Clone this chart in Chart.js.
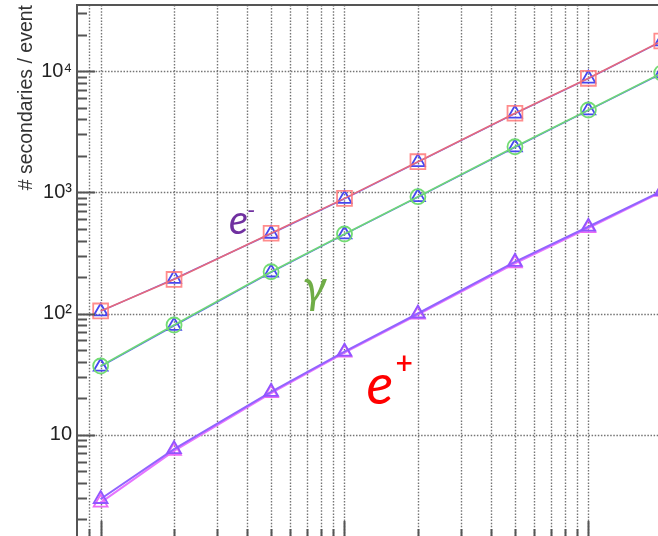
<!DOCTYPE html>
<html><head><meta charset="utf-8">
<script src="https://cdn.jsdelivr.net/npm/chart.js@4.4.1/dist/chart.umd.min.js"></script>
<style>html,body{margin:0;padding:0;background:#fff;overflow:hidden}#wrap{width:658px;height:536px;position:relative}</style>
</head><body><div id="wrap"><canvas id="c"></canvas></div>
<script>
// ---- data ----
const energies   = [1, 2, 5, 10, 20, 50, 100, 200];
const electronA  = [105, 191, 459, 891, 1789, 4490, 8720, 17700];
const electronB  = [104, 193, 455, 884, 1775, 4460, 8680, 17600];
const gammaA     = [36.9, 80.4, 221, 453, 920, 2376, 4775, 9640];
const gammaB     = [36.4, 79.2, 218, 449, 912, 2350, 4740, 9560];
const positronA  = [2.95, 7.6, 22.6, 48.4, 100, 267, 520, 1025];
const positronB  = [2.75, 7.35, 22.0, 47.6, 98, 259, 507, 1008];

const yMajorTicks = [10, 100, 1000, 10000];
const yTickLabels = ['10', '10²', '10³', '10⁴'];
const yMinorTicks = [2,3,4,5,6,7,8,9, 20,30,40,50,60,70,80,90, 200,300,400,500,600,700,800,900,
                     2000,3000,4000,5000,6000,7000,8000,9000, 20000,30000];
const xMajorTicks = [1, 10, 100];
const xMinorTicks = [0.9, 2,3,4,5,6,7,8,9, 20,30,40,50,60,70,80,90];
const xRange = [0.8, 193];
const yRange = [1.46, 35100];
const yTitle = '# secondaries / event';

const annotations = [
  {text: 'e', x: 3.36, y: 453,  font: 'italic 40px Lato, "Noto Sans", sans-serif', color: '#7030a0'},
  {text: '-', x: 3.98, y: 610,  font: 'italic 24px Lato, "Noto Sans", sans-serif', color: '#7030a0'},
  {text: 'γ', x: 6.75, y: 122,  font: 'italic 47px Lato, "Noto Sans", sans-serif', color: '#70ad47'},
  {text: 'e', x: 12.3, y: 17.9, font: 'italic 56px Lato, "Noto Sans", sans-serif', color: '#ff0000'},
  {text: '+', x: 16.2, y: 31.5, font: '600 30px Lato, "Noto Sans", sans-serif', color: '#ff0000'}
];

function pts(ys){ return energies.map((e,i)=>({x:e, y:ys[i]})); }

const axisColor = '#555';
const framePlugin = {
  id: 'frame',
  beforeDatasetsDraw(chart){
    const {ctx, chartArea:a, scales:{x, y}} = chart;
    ctx.save();
    ctx.strokeStyle = '#747474';
    ctx.lineWidth = 1.4;
    ctx.setLineDash([1.5, 1.6]);
    xMajorTicks.concat(xMinorTicks).forEach(v=>{
      const px = Math.round(x.getPixelForValue(v)) + 0.5;
      ctx.beginPath(); ctx.moveTo(px, a.top); ctx.lineTo(px, a.bottom); ctx.stroke();
    });
    yMajorTicks.forEach(v=>{
      const py = Math.round(y.getPixelForValue(v)) + 0.5;
      ctx.beginPath(); ctx.moveTo(a.left, py); ctx.lineTo(a.right, py); ctx.stroke();
    });
    ctx.restore();
  },
  afterDatasetsDraw(chart){
    const {ctx, chartArea:a, scales:{x, y}} = chart;
    ctx.save();
    ctx.setLineDash([]);
    ctx.strokeStyle = axisColor;
    ctx.lineWidth = 2;
    ctx.beginPath();
    ctx.moveTo(a.left, a.bottom); ctx.lineTo(a.left, a.top); ctx.lineTo(a.right, a.top);
    ctx.stroke();
    const yt = (v, len)=>{ const py = Math.round(y.getPixelForValue(v)) + 0.5;
      ctx.beginPath(); ctx.moveTo(a.left, py); ctx.lineTo(a.left + len, py); ctx.stroke(); };
    yMajorTicks.forEach(v=>yt(v, 18));
    yMinorTicks.forEach(v=>yt(v, 10));
    const xt = (v, len)=>{ const px = Math.round(x.getPixelForValue(v)) + 0.5;
      ctx.beginPath(); ctx.moveTo(px, a.bottom); ctx.lineTo(px, a.bottom - len); ctx.stroke(); };
    xMajorTicks.forEach(v=>xt(v, 15));
    xMinorTicks.forEach(v=>xt(v, 7));
    ctx.textAlign = 'left'; ctx.textBaseline = 'alphabetic';
    annotations.forEach(t=>{
      ctx.font = t.font; ctx.fillStyle = t.color;
      ctx.fillText(t.text, x.getPixelForValue(t.x), y.getPixelForValue(t.y));
    });
    ctx.restore();
  }
};

function ds(label, data, color, lineColor, style, radius, width, order){
  return {label, data: pts(data), borderColor: lineColor, borderWidth: width,
    pointStyle: style, pointRadius: radius, pointHoverRadius: radius,
    pointBorderColor: color, pointBackgroundColor: 'rgba(0,0,0,0)', pointBorderWidth: 1.8,
    tension: 0, fill: false, clip: false, order};
}

new Chart(document.getElementById('c'), {
  type: 'line',
  data: {
    datasets: [
      ds('e- A', electronA, 'rgba(255,120,120,0.85)', 'rgb(228,105,125)', 'rect', 10.5, 1.6, 1),
      ds('e- B', electronB, 'rgb(70,70,240)', 'rgb(120,100,235)', 'triangle', 8, 1.4, 2),
      ds('gamma A', gammaA, 'rgb(115,220,115)', 'rgb(110,215,120)', 'circle', 7.5, 1.6, 3),
      ds('gamma B', gammaB, 'rgb(70,70,240)', 'rgb(90,100,240)', 'triangle', 8, 1.4, 4),
      ds('e+ A', positronA, 'rgb(145,85,255)', 'rgb(145,100,255)', 'triangle', 8, 2, 5),
      ds('e+ B', positronB, 'rgb(235,105,245)', 'rgb(230,115,255)', 'triangle', 8, 2, 6)
    ]
  },
  options: {
    responsive: true, maintainAspectRatio: false, animation: false,
    layout: {autoPadding: false, padding: {left: 0, top: 5, right: 0, bottom: 0}},
    plugins: {legend: {display: false}, tooltip: {enabled: false}},
    events: [],
    scales: {
      x: {type: 'logarithmic', min: xRange[0], max: xRange[1], display: false},
      y: {type: 'logarithmic', min: yRange[0], max: yRange[1], position: 'left',
        grid: {display: false, drawTicks: false}, border: {display: false},
        afterBuildTicks: s => { s.ticks = yMajorTicks.map(v=>({value: v})); },
        afterFit: s => { s.width = 77; s.paddingTop = 0; s.paddingBottom = 0; },
        ticks: {autoSkip: false, padding: 5, color: '#222',
          font: {family: '"Liberation Sans", Arial, sans-serif', size: 20},
          callback: v => { const i = yMajorTicks.indexOf(v); return i >= 0 ? yTickLabels[i] : ''; }},
        title: {display: true, text: yTitle, align: 'end', color: '#333',
          font: {family: '"Liberation Sans", Arial, sans-serif', size: 19.5},
          padding: {top: 15, bottom: 0}}
      }
    }
  },
  plugins: [framePlugin]
});
</script></body></html>
